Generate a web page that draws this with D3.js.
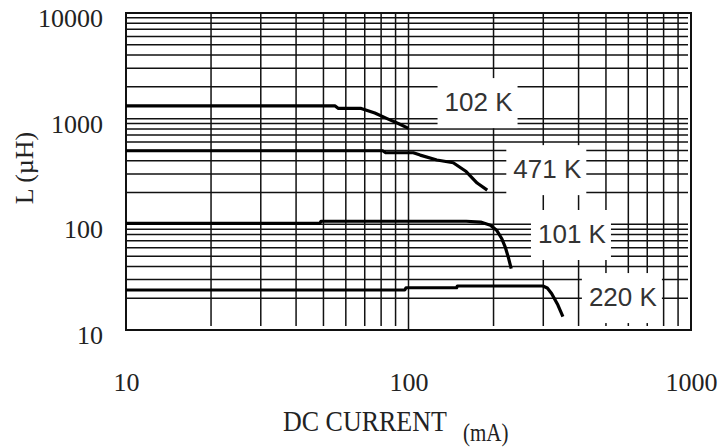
<!DOCTYPE html>
<html>
<head>
<meta charset="utf-8">
<script src="https://cdn.jsdelivr.net/npm/d3@7"></script>
<style>
  html, body { margin: 0; padding: 0; background: #fff; }
  svg { display: block; }
</style>
</head>
<body>
<div id="chart"></div>
<script>
// Tick labels
const xTickValues = [10, 100, 1000];
const yTickValues = [10, 100, 1000, 10000];

// Series names (inductor codes)
const seriesNames = ['102 K', '471 K', '101 K', '220 K'];

// [DC current mA, inductance uH]
const curve102K = [[10, 1320], [55, 1320], [56.5, 1250], [68, 1250], [76, 1130], [84, 1000], [92, 900], [100, 810]];
const curve471K = [[10, 497], [81, 497], [83, 476], [104, 476], [110, 452], [126, 406], [144, 383], [160, 316], [175, 246], [190, 211]];
const curve101K = [[10, 102], [48.5, 102], [49, 107], [160, 107], [180, 105], [195, 98], [205, 88], [214, 73], [220, 61], [226, 48], [231, 38]];
const curve220K = [[10, 23.9], [97, 23.9], [98, 25.1], [148, 25.1], [149, 26.1], [299, 26.1], [310, 25], [321, 22.2], [338, 17.2], [352, 13.4]];

const curves = [curve102K, curve471K, curve101K, curve220K];

// label anchor (data units) for each series name
const labelAnchors = [[177, 1435], [310, 333], [379, 81], [574, 20.5]];

const width = 721;
const height = 447;

const svg = d3.select('#chart')
  .append('svg')
  .attr('width', width)
  .attr('height', height);

const x = d3.scaleLog().domain([10, 1000]).range([126, 691]);
const y = d3.scaleLog().domain([10, 10000]).range([330, 13]);

const serif = "'Liberation Serif', 'Times New Roman', serif";
const sans = "'Liberation Sans', Arial, sans-serif";

// Grid
const grid = svg.append('g')
  .attr('stroke', '#111')
  .attr('stroke-width', 1.5);

grid.selectAll('line.v')
  .data(x.ticks().filter(d => d > 10 && d < 1000))
  .enter()
  .append('line')
  .attr('class', 'v')
  .attr('x1', d => x(d))
  .attr('x2', d => x(d))
  .attr('y1', y(10000))
  .attr('y2', d => d === 100 ? y(10) : y(10) - 4);

grid.selectAll('line.h')
  .data(y.ticks().filter(d => d > 10 && d < 10000))
  .enter()
  .append('line')
  .attr('class', 'h')
  .attr('x1', x(10))
  .attr('x2', x(1000) - 3)
  .attr('y1', d => y(d))
  .attr('y2', d => y(d));

// Plot border
svg.append('rect')
  .attr('x', x(10))
  .attr('y', y(10000))
  .attr('width', x(1000) - x(10))
  .attr('height', y(10) - y(10000))
  .attr('fill', 'none')
  .attr('stroke', '#111')
  .attr('stroke-width', 2);

// White boxes behind the series labels
const boxW = 80;
const boxH = 50;
svg.selectAll('rect.lbl')
  .data(labelAnchors)
  .enter()
  .append('rect')
  .attr('class', 'lbl')
  .attr('x', d => x(d[0]) - boxW / 2 - 1)
  .attr('y', d => y(d[1]) - boxH / 2 + 1)
  .attr('width', boxW)
  .attr('height', boxH)
  .attr('fill', '#fff');

// Curves
const line = d3.line()
  .x(d => x(d[0]))
  .y(d => y(d[1]));

svg.selectAll('path.curve')
  .data(curves)
  .enter()
  .append('path')
  .attr('class', 'curve')
  .attr('d', line)
  .attr('fill', 'none')
  .attr('stroke', '#000')
  .attr('stroke-width', 3.2)
  .attr('stroke-linejoin', 'round');

// Series labels
svg.selectAll('text.name')
  .data(seriesNames)
  .enter()
  .append('text')
  .attr('class', 'name')
  .attr('x', (d, i) => x(labelAnchors[i][0]))
  .attr('y', (d, i) => y(labelAnchors[i][1]))
  .attr('dy', '0.36em')
  .attr('text-anchor', 'middle')
  .style('font-family', sans)
  .style('font-size', '26px')
  .style('fill', '#333')
  .text(d => d);

// Axes (labels only)
const xAxis = svg.append('g')
  .attr('transform', `translate(0, ${y(10)})`)
  .call(d3.axisBottom(x).tickValues(xTickValues).tickFormat(d3.format('d')).tickSize(0).tickPadding(43));

const yAxis = svg.append('g')
  .attr('transform', `translate(${x(10)}, 0)`)
  .call(d3.axisLeft(y).tickValues(yTickValues).tickFormat(d3.format('d')).tickSize(0).tickPadding(23));

[xAxis, yAxis].forEach(a => {
  a.select('.domain').remove();
  a.selectAll('text')
    .style('font-family', serif)
    .style('font-size', '26px')
    .attr('fill', '#222');
});
yAxis.selectAll('text').attr('dy', '0.52em');

// Axis titles
svg.append('text')
  .attr('transform', 'translate(283, 431) scale(1, 1.14)')
  .style('font-family', serif)
  .style('font-size', '26px')
  .attr('fill', '#222')
  .text('DC CURRENT');

svg.append('text')
  .attr('transform', 'translate(463, 441) scale(1, 1.2)')
  .style('font-family', serif)
  .style('font-size', '21px')
  .attr('fill', '#222')
  .text('(mA)');

svg.append('text')
  .attr('transform', 'translate(33, 168) rotate(-90)')
  .attr('text-anchor', 'middle')
  .style('font-family', serif)
  .style('font-size', '26px')
  .attr('fill', '#222')
  .text('L (µH)');
</script>
</body>
</html>
